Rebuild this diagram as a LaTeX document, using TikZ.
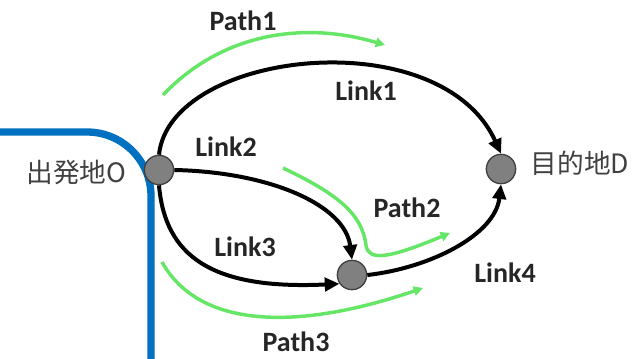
\documentclass[tikz,border=0pt]{standalone}
\usepackage{fontspec}
\setmainfont{Carlito}
\newfontfamily\jpfont{Noto Sans CJK JP}
\usetikzlibrary{arrows.meta}

\definecolor{pathgreen}{RGB}{102,230,102}
\definecolor{routeblue}{RGB}{0,112,192}
\definecolor{nodegray}{RGB}{128,128,128}
\definecolor{labelgray}{RGB}{64,64,64}

\tikzset{
  place/.style={circle,draw=labelgray,fill=nodegray,line width=1pt,minimum size=22pt,inner sep=0pt},
  link/.style={line width=3pt,-{Triangle[length=11pt,width=10pt]}},
  route/.style={pathgreen,line width=2.6pt,-{Triangle[length=7pt,width=7pt]}},
  lbl/.style={font=\fontsize{21}{25}\selectfont\bfseries,text=black!85,inner sep=0.75pt},
  jplbl/.style={font=\fontsize{20}{24}\selectfont\jpfont,text=labelgray,inner sep=0.75pt},
}

\begin{document}
\begin{tikzpicture}[x=0.75pt,y=0.75pt,yscale=-1,xscale=1]
	\useasboundingbox (0,0) rectangle (638,358);
	
	%Blue boundary
	\draw [routeblue,line width=5.5pt,rounded corners=48pt] (0,132) -- (151,132) -- (151,364) ;
	
	%Places
	\node [place] (O) at (159,170) {};
	\node [place] (D) at (501,169) {};
	\node [place] (M) at (352,275) {};
	
	%Links
	\draw [link] (O.north) .. controls (170,50) and (440,20) .. (D.north) ;
	\draw [link] (O.east) .. controls (270,172) and (345,205) .. (M.north) ;
	\draw [link] (O.south) .. controls (165,255) and (210,290) .. (M.215) ;
	\draw [link] (M.east) .. controls (430,268) and (495,235) .. (D.south) ;
	
	%Paths
	\coordinate (p1a) at (163,95);
	\coordinate (p1b) at (385,45);
	\coordinate (p2a) at (283,168);
	\coordinate (p2b) at (450,233);
	\coordinate (p3a) at (162,262);
	\coordinate (p3b) at (423,288);
	\draw [route] (p1a) .. controls (220,35) and (300,20) .. (p1b) ;
	\draw [route] (p2a) .. controls (340,195) and (362,215) .. (366,245) .. controls (368,262) and (390,258) .. (p2b) ;
	\draw [route] (p3a) .. controls (200,330) and (300,330) .. (p3b) ;
	
	% Text Node
	\node [lbl] (path1) at (243,21) {Path1};
	\node [lbl] (link1) at (366,91) {Link1};
	\node [lbl] (link2) at (226,147) {Link2};
	\node [lbl] (path2) at (407,208) {Path2};
	\node [lbl] (link3) at (245,247) {Link3};
	\node [lbl] (link4) at (505,273) {Link4};
	\node [lbl] (path3) at (296,342) {Path3};
	% Text Node
	\node [jplbl,anchor=east] (start) at ([xshift=-12pt,yshift=2pt]O.west) {出発地O};
	\node [jplbl,anchor=west] (goal) at ([xshift=10pt,yshift=-4pt]D.east) {目的地D};
	
\end{tikzpicture}
\end{document}
